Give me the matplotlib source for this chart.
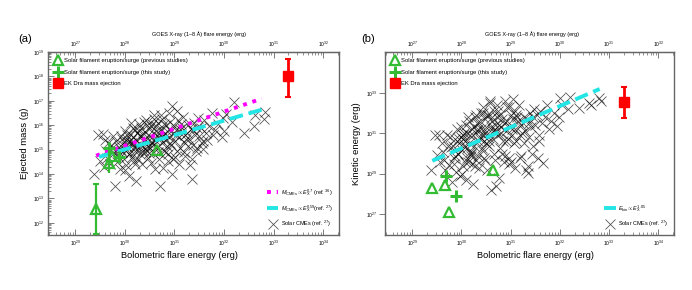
import numpy as np
import matplotlib.pyplot as plt
from matplotlib.ticker import LogLocator, NullFormatter, NullLocator

plt.rcParams['font.family'] = ['Liberation Sans', 'DejaVu Sans']
plt.rcParams['mathtext.fontset'] = 'custom'
plt.rcParams['mathtext.rm'] = 'Liberation Sans'
plt.rcParams['mathtext.it'] = 'Liberation Sans:italic'

# solar CMEs (log10 values)
cme_logE = [
    29.38, 29.46, 29.55, 29.50, 29.57, 29.62, 29.66, 29.70, 29.74, 29.78,
    29.81, 29.83, 29.86, 29.88, 29.90, 29.92, 29.94, 29.96, 29.98, 30.00,
    30.02, 30.03, 30.05, 30.07, 30.09, 30.10, 30.12, 30.14, 30.16, 30.18,
    30.19, 30.21, 30.23, 30.24, 30.26, 30.28, 30.30, 30.31, 30.33, 30.35,
    30.36, 30.38, 30.40, 30.41, 30.43, 30.45, 30.46, 30.48, 30.50, 30.51,
    30.53, 30.55, 30.56, 30.58, 30.60, 30.61, 30.63, 30.64, 30.66, 30.68,
    30.69, 30.70, 30.72, 30.74, 30.75, 30.77, 30.79, 30.80, 30.82, 30.84,
    30.86, 30.88, 30.90, 30.92, 30.94, 30.96, 30.96, 30.98, 31.00, 31.02,
    31.04, 31.06, 31.08, 31.10, 31.12, 31.15, 31.17, 31.20, 31.22, 31.25,
    31.27, 31.30, 31.33, 31.35, 31.36, 31.38, 31.40, 31.42, 31.45, 31.48,
    31.50, 31.53, 31.55, 31.57, 31.60, 31.63, 31.66, 31.70, 31.75, 31.78,
    31.82, 31.88, 31.95, 31.98, 32.00, 32.05, 32.17, 32.20, 32.40, 32.60, 32.63, 32.80, 32.83,
    29.85, 29.93, 30.01, 30.06, 30.11, 30.17, 30.22, 30.27, 30.32, 30.37,
    30.42, 30.47, 30.52, 30.57, 30.62, 30.67, 30.71, 30.76, 30.81, 30.87,
    30.91, 30.97, 31.03, 31.09, 31.14, 31.19, 31.24, 31.31, 31.37, 31.44,
    29.60, 29.77, 29.99, 30.13, 30.29, 30.44, 30.59, 30.73, 30.89, 31.05,
    29.95, 30.04, 30.08, 30.15, 30.20, 30.25, 30.34, 30.39, 30.49, 30.54,
    30.65, 30.78, 30.83, 30.93, 31.01, 31.11, 31.21, 31.28, 31.46, 31.58,
    29.64, 29.73, 29.87, 30.03, 30.12, 30.21, 30.33, 30.46, 30.55, 30.69,
]
cme_logM = [
    14.02, 15.60, 15.62, 14.55, 14.30, 14.95, 15.25, 14.40, 15.05, 14.85,
    13.50, 15.35, 14.75, 15.10, 14.20, 15.55, 14.90, 15.20, 14.60, 15.75,
    14.95, 14.35, 15.45, 15.05, 13.90, 15.65, 15.25, 14.70, 15.90, 15.10,
    14.55, 15.80, 13.73, 15.35, 15.00, 16.05, 14.80, 15.55, 15.20, 14.40,
    15.70, 15.10, 15.45, 14.90, 16.20, 15.30, 14.65, 15.85, 15.05, 15.55,
    15.95, 15.25, 14.85, 16.40, 15.40, 14.20, 15.75, 15.10, 16.10, 15.50,
    14.60, 13.50, 15.85, 15.25, 16.25, 15.60, 14.95, 15.40, 16.00, 15.15,
    15.75, 14.80, 15.50, 16.15, 15.20, 16.80, 14.02, 15.65, 15.95, 15.35,
    15.80, 14.95, 16.20, 15.50, 15.05, 15.90, 16.35, 15.30, 14.75, 15.70,
    16.00, 15.45, 15.85, 14.60, 13.78, 15.20, 16.10, 15.60, 15.05, 16.30,
    15.55, 15.90, 15.25, 15.04, 16.20, 15.70, 15.40, 15.95, 16.50, 15.60,
    15.80, 16.05, 15.50, 16.30, 15.75, 16.45, 16.15, 16.96, 15.70, 15.98, 16.40, 16.27, 16.55,
    14.50, 15.00, 14.15, 15.30, 14.85, 15.50, 15.15, 14.60, 15.90, 15.35,
    15.00, 15.60, 14.45, 15.20, 15.95, 14.90, 15.45, 14.25, 15.65, 14.55,
    15.25, 14.60, 15.60, 14.40, 16.05, 14.90, 15.45, 14.35, 15.80, 14.95,
    15.40, 15.55, 15.30, 16.10, 15.75, 16.00, 16.25, 16.40, 16.50, 16.60,
    15.45, 15.60, 14.80, 15.25, 14.95, 15.70, 14.95, 16.15, 14.85, 15.30,
    15.55, 16.05, 14.90, 15.75, 14.70, 15.85, 15.60, 15.15, 15.90, 15.35,
    14.65, 15.20, 14.95, 15.15, 15.40, 14.40, 15.55, 15.15, 16.05, 15.70,
]
cme_logEk = [
    29.20, 30.90, 30.90, 29.95, 29.60, 30.10, 29.20, 30.90, 29.45, 30.35,
    28.60, 30.40, 29.80, 30.70, 29.10, 31.20, 30.00, 30.50, 28.90, 30.80,
    30.20, 29.40, 31.00, 30.60, 28.70, 31.40, 30.30, 29.60, 31.60, 30.10,
    29.90, 31.20, 28.50, 30.90, 30.40, 31.80, 29.70, 31.10, 30.60, 29.30,
    31.50, 30.80, 31.20, 30.20, 32.00, 30.90, 29.80, 31.70, 30.50, 31.30,
    31.90, 31.00, 30.40, 32.60, 31.30, 28.20, 31.60, 30.70, 32.10, 31.20,
    29.70, 28.40, 31.80, 30.90, 32.10, 31.40, 30.30, 31.00, 31.70, 30.60,
    31.50, 29.90, 31.10, 32.30, 30.70, 32.30, 29.80, 31.30, 31.90, 30.90,
    31.70, 30.50, 32.10, 31.20, 30.60, 31.60, 32.40, 30.90, 29.90, 31.50,
    31.80, 31.10, 31.70, 29.05, 29.40, 30.80, 32.00, 31.30, 30.40, 32.20,
    31.40, 31.90, 29.80, 30.60, 32.10, 31.50, 29.55, 31.80, 32.40, 31.20,
    31.60, 32.00, 31.37, 31.80, 32.75, 32.40, 32.20, 32.80, 32.25, 32.50, 32.40, 32.75, 32.60,
    29.50, 30.00, 29.00, 30.40, 29.80, 30.90, 30.10, 29.40, 31.50, 30.70,
    30.30, 31.10, 29.20, 30.60, 31.80, 30.00, 31.10, 28.80, 31.30, 29.60,
    30.60, 29.50, 31.20, 29.30, 31.80, 29.80, 31.00, 29.20, 31.50, 30.00,
    30.50, 30.80, 31.30, 31.80, 31.90, 32.30, 32.50, 32.40, 32.60, 32.70,
    30.70, 30.90, 29.60, 30.50, 30.00, 31.30, 29.90, 32.00, 29.70, 30.80,
    31.10, 31.90, 30.00, 31.60, 29.60, 31.90, 31.40, 30.50, 31.80, 30.90,
    29.70, 30.40, 29.90, 30.70, 31.00, 29.50, 31.20, 30.60, 31.90, 31.40,
]

# solar filament eruptions, previous studies (triangles)
prev_logE = [29.41, 29.67, 29.75, 30.64]
prev_logM = [12.55, 14.45, 14.75, 15.00]
prev_logEk = [28.30, 28.45, 27.10, 29.20]
# this study (plus signs)
this_logE = [29.69, 29.89]
this_logM = [15.05, 14.70]
this_logEk = [28.90, 27.90]

# EK Dra
ek_E = 2.0e33
ek_M, ek_M_lo, ek_M_hi = 1.05e18, 1.45e17, 5.0e18
ek_Ek, ek_Ek_lo, ek_Ek_hi = 3.6e32, 5.8e31, 2.0e33

# power-law fits: (log E start, log E end, log y at start, index)
fit_a1 = (29.42, 32.76, 14.75, 0.70)
fit_a2 = (29.48, 32.78, 14.70, 0.59)
fit_b = (29.41, 32.81, 29.64, 1.05)

bol_ticks = [1e29, 1e30, 1e31, 1e32, 1e33, 1e34]
goes_ticks = [1e27, 1e28, 1e29, 1e30, 1e31, 1e32]

green = '#33bb33'
grey = '#666666'
cyan = '#22e5e5'


def fit_line(fit):
    e = np.array([fit[0], fit[1]])
    return 10 ** e, 10 ** (fit[2] + fit[3] * (e - fit[0]))


def style_axes(ax, xlab_x, top_x):
    ax.set_xscale('log')
    ax.set_yscale('log')
    ax.set_xlim(10 ** 28.45, 10 ** 34.32)
    for s in ax.spines.values():
        s.set_color(grey)
        s.set_linewidth(1.0)
    ax.set_xticks(bol_ticks)
    ax.xaxis.set_minor_locator(LogLocator(base=10, subs=np.arange(2, 10), numticks=20))
    ax.xaxis.set_minor_formatter(NullFormatter())
    ax.tick_params(axis='x', which='major', direction='in', length=4, width=0.6,
                   color=grey, labelsize=3.5, pad=3)
    ax.tick_params(axis='x', which='minor', direction='in', length=2, width=0.5, color=grey)
    top = ax.secondary_xaxis('top', functions=(lambda x: x / 100.0, lambda x: x * 100.0))
    top.set_xticks(goes_ticks)
    top.xaxis.set_minor_locator(LogLocator(base=10, subs=np.arange(2, 10), numticks=20))
    top.xaxis.set_minor_formatter(NullFormatter())
    top.tick_params(axis='x', which='major', direction='in', length=4, width=0.6,
                    color=grey, labelsize=3.5, pad=2)
    top.tick_params(axis='x', which='minor', direction='in', length=2, width=0.5, color=grey)
    top.spines['top'].set_color(grey)
    top.set_xlabel('GOES X-ray (1–8 Å) flare energy (erg)', fontsize=4, labelpad=3)
    top.xaxis.label.set_x(top_x)
    ax.set_xlabel('Bolometric flare energy (erg)', fontsize=6.6, labelpad=2)
    ax.xaxis.label.set_x(xlab_x)


def add_legends(ax, h_tri, h_plus, h_ek, low_handles, low_labels):
    leg = ax.legend([h_tri, h_plus, h_ek],
                    ['Solar filament eruption/surge (previous studies)',
                     'Solar filament eruption/surge (this study)',
                     'EK Dra mass ejection'],
                    loc='upper left', fontsize=4.2, frameon=False, handlelength=1.3,
                    handletextpad=0.4, borderaxespad=0.7, labelspacing=1.05)
    ax.add_artist(leg)
    ax.legend(low_handles, low_labels, loc='lower right', fontsize=4.0, frameon=False,
              handlelength=2.0, handletextpad=0.5, borderaxespad=0.6, labelspacing=0.95)


fig = plt.figure(figsize=(6.92, 2.90), dpi=100)
ax1 = fig.add_axes([0.0694, 0.1897, 0.4205, 0.631])
ax2 = fig.add_axes([0.5564, 0.1897, 0.4176, 0.631])

# ---- panel (a)
style_axes(ax1, 0.452, 0.52)
ax1.set_ylim(10 ** 11.5, 1e19)
ax1.set_yticks([1e12, 1e13, 1e14, 1e15, 1e16, 1e17, 1e18, 1e19])
ax1.yaxis.set_minor_locator(LogLocator(base=10, subs=np.arange(2, 10), numticks=20))
ax1.yaxis.set_minor_formatter(NullFormatter())
ax1.tick_params(axis='y', which='major', direction='in', length=4, width=0.6,
                color=grey, labelsize=3.5, pad=3)
ax1.tick_params(axis='y', which='minor', direction='in', length=2, width=0.5, color=grey)
ax1.set_ylabel('Ejected mass (g)', fontsize=6.8, labelpad=3)

cx = 10 ** np.array(cme_logE)
h_cme = ax1.plot(cx, 10 ** np.array(cme_logM), 'x', color='black', ms=6.5, mew=0.55,
                 alpha=0.7, zorder=2)[0]
xs, ys = fit_line(fit_a1)
h_m = ax1.plot(xs, ys, color='magenta', lw=2.8, ls=(0, (1, 1.5)), zorder=3)[0]
xs, ys = fit_line(fit_a2)
h_c = ax1.plot(xs, ys, color=cyan, lw=2.8, ls=(0, (3.5, 1.5)), zorder=3)[0]

ax1.errorbar([10 ** prev_logE[0]], [10 ** prev_logM[0]],
             yerr=[[10 ** prev_logM[0] - 10 ** 11.55], [10 ** 13.6 - 10 ** prev_logM[0]]],
             fmt='none', ecolor=green, elinewidth=1.6, capsize=2, capthick=1.5, zorder=4)
ax1.errorbar([10 ** this_logE[0]], [10 ** this_logM[0]],
             yerr=[[10 ** this_logM[0] - 10 ** 14.05], [10 ** 15.25 - 10 ** this_logM[0]]],
             fmt='none', ecolor=green, elinewidth=1.6, capsize=0, zorder=4)
h_tri = ax1.plot(10 ** np.array(prev_logE), 10 ** np.array(prev_logM), '^', mfc='none',
                 mec=green, ms=7, mew=1.6, zorder=5)[0]
h_plus = ax1.plot(10 ** np.array(this_logE), 10 ** np.array(this_logM), '+',
                  color=green, ms=9, mew=2.2, zorder=5)[0]
ax1.errorbar([ek_E], [ek_M], yerr=[[ek_M - ek_M_lo], [ek_M_hi - ek_M]], fmt='none',
             ecolor='red', elinewidth=2, capsize=2.5, capthick=1.5, zorder=4)
h_ek = ax1.plot([ek_E], [ek_M], 's', color='red', ms=7, zorder=5)[0]

add_legends(ax1, h_tri, h_plus, h_ek, [h_m, h_c, h_cme],
            [r'$M_{\rm CMEs} \propto E_{\rm X}^{0.7}$ (ref. $^{36}$)',
             r'$M_{\rm CMEs} \propto E_{\rm X}^{0.59}$(ref. $^{27}$)',
             r'Solar CMEs (ref. $^{27}$)'])
fig.text(0.026, 0.855, '(a)', fontsize=8)

# ---- panel (b)
style_axes(ax2, 0.52, 0.51)
ax2.set_ylim(10 ** 25.95, 10 ** 35.05)
ax2.set_yticks([1e27, 1e29, 1e31, 1e33])
ax2.yaxis.set_minor_locator(NullLocator())
ax2.tick_params(axis='y', which='major', direction='out', length=4, width=0.6,
                color=grey, labelsize=3.5, pad=2)
ax2.set_ylabel('Kinetic energy (erg)', fontsize=6.8, labelpad=3)

h_cme2 = ax2.plot(cx, 10 ** np.array(cme_logEk), 'x', color='black', ms=6.5, mew=0.55,
                  alpha=0.7, zorder=2)[0]
xs, ys = fit_line(fit_b)
h_c2 = ax2.plot(xs, ys, color=cyan, lw=2.8, ls=(0, (3.5, 1.5)), zorder=3)[0]
h_tri2 = ax2.plot(10 ** np.array(prev_logE), 10 ** np.array(prev_logEk), '^', mfc='none',
                  mec=green, ms=7, mew=1.6, zorder=5)[0]
h_plus2 = ax2.plot(10 ** np.array(this_logE), 10 ** np.array(this_logEk), '+',
                   color=green, ms=9, mew=2.2, zorder=5)[0]
ax2.errorbar([ek_E], [ek_Ek], yerr=[[ek_Ek - ek_Ek_lo], [ek_Ek_hi - ek_Ek]], fmt='none',
             ecolor='red', elinewidth=2, capsize=2.5, capthick=1.5, zorder=4)
h_ek2 = ax2.plot([ek_E], [ek_Ek], 's', color='red', ms=7, zorder=5)[0]

add_legends(ax2, h_tri2, h_plus2, h_ek2, [h_c2, h_cme2],
            [r'$E_{\rm kin} \propto E_{\rm X}^{1.05}$', r'Solar CMEs (ref. $^{27}$)'])
fig.text(0.522, 0.855, '(b)', fontsize=8)

fig.savefig('out.png', dpi=100)
